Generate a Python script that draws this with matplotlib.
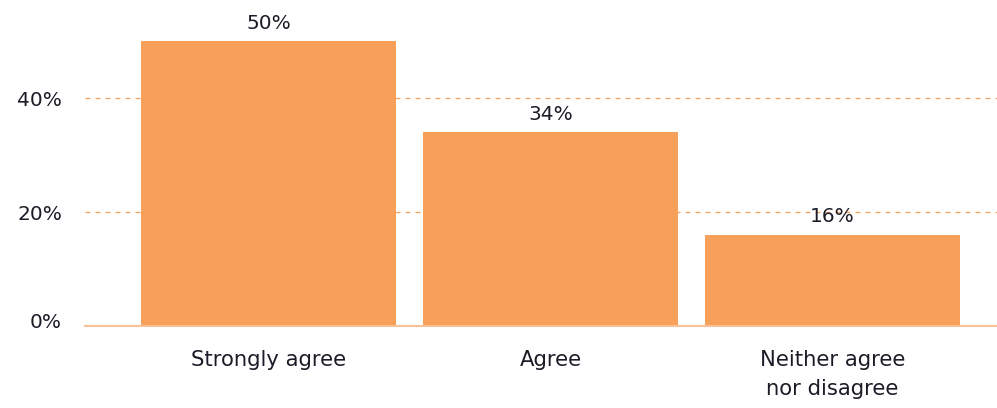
import matplotlib.pyplot as plt

categories = ["Strongly agree", "Agree", "Neither agree\nnor disagree"]
values = [50, 34, 16]
yticks = [0, 20, 40]
ytick_labels = ["0%", "20%", "40%"]

bar_color = "#F7A05A"
text_color = "#1c1c28"

plt.rcParams['font.family'] = ['DejaVu Sans']

fig = plt.figure(figsize=(9.97, 4.08), dpi=100)
ax = fig.add_axes([85 / 997, 82 / 408, 912 / 997, 326 / 408])

x = range(len(categories))
ax.bar(x, values, width=0.904, color=bar_color, zorder=2)

for xi, v in zip(x, values):
    ax.annotate(f"{v}%", (xi, v), xytext=(0, 6), textcoords="offset points",
                ha="center", va="bottom", fontsize=14.5, color=text_color)

ax.set_xlim(-0.651, 2.583)
ax.set_ylim(0, 57.2)
ax.set_yticks(yticks[1:])
ax.set_yticklabels(ytick_labels[1:])
ax.set_xticks(list(x))
ax.set_xticklabels(categories, multialignment="center", linespacing=1.6)
ax.tick_params(axis="y", length=0, pad=16.5, labelsize=14.5, labelcolor=text_color)
ax.tick_params(axis="x", length=0, pad=17, labelsize=15.2, labelcolor=text_color)

# 0% label sits just above the baseline
ax.text(-0.651 - 23 / 282, 0.6, ytick_labels[0], ha="right", va="center",
        fontsize=14.5, color=text_color)

for y in yticks[1:]:
    ax.axhline(y, color=bar_color, lw=0.9, ls=(0, (4, 4)), zorder=1)

for s in ["top", "right", "left"]:
    ax.spines[s].set_visible(False)
ax.spines["bottom"].set_color("#F9C196")
ax.spines["bottom"].set_linewidth(1.5)

fig.savefig("out.png", dpi=100)
